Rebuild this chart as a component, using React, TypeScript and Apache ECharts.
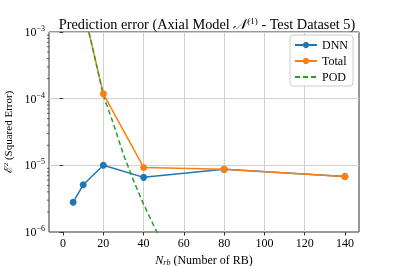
import React, { useEffect, useRef } from "react";
import * as echarts from "echarts";

const nrbDNN = [5, 10, 20, 40, 80, 140];
const dnnError = [2.8e-6, 5.1e-6, 1.0e-5, 6.6e-6, 8.7e-6, 6.8e-6];
const nrbTotal = [5, 10, 20, 40, 80, 140];
const totalError = [8.0e-3, 2.3e-3, 1.18e-4, 9.3e-6, 8.7e-6, 6.8e-6];
const nrbPOD = [0, 5, 10, 15, 20, 25, 30, 35, 40, 45, 50, 60];
const podError = [3.2e-2, 8.0e-3, 2.3e-3, 5.2e-4, 1.12e-4, 4.2e-5, 1.45e-5, 5.9e-6, 2.6e-6, 1.26e-6, 6.3e-7, 1.6e-7];
const xTicks = [0, 20, 40, 60, 80, 100, 120, 140];
const yMinorTicks = [2, 3, 4, 5, 6, 7, 8, 9].flatMap((k) => [k * 1e-6, k * 1e-5, k * 1e-4]);

const FONT = "Liberation Serif";
const BLUE = "#1f77b4";
const ORANGE = "#ff7f0e";
const GREEN = "#2ca02c";

export default function App() {
  const ref = useRef<HTMLDivElement>(null);
  useEffect(() => {
    if (!ref.current) return;
    const chart = echarts.init(ref.current, null, { renderer: "svg" });
    chart.setOption({
      animation: false,
      textStyle: { fontFamily: FONT },
      title: {
        text: "Prediction error (Axial Model {i|𝒩}{sup|(1)} - Test Dataset 5)",
        left: 202,
        textAlign: "center",
        top: 11,
        textStyle: {
          fontFamily: FONT,
          fontSize: 14.3,
          fontWeight: "normal",
          color: "#000",
          rich: {
            i: { fontFamily: FONT, fontSize: 14.3, fontStyle: "italic", color: "#000" },
            sup: { fontSize: 9, fontFamily: FONT, color: "#000", padding: [0, 0, 7, 0] },
          },
        },
      },
      legend: {
        orient: "vertical",
        right: 46,
        top: 35,
        itemWidth: 22,
        itemHeight: 8,
        itemGap: 4,
        padding: [4, 5, 3, 4],
        borderColor: "#cccccc",
        borderWidth: 1,
        borderRadius: 3,
        backgroundColor: "rgba(255,255,255,0.8)",
        textStyle: { fontFamily: FONT, fontSize: 12, color: "#000" },
        data: ["DNN", "Total", { name: "POD", itemStyle: { opacity: 0 } }],
      },
      grid: {
        left: 49,
        right: 40,
        top: 32,
        bottom: 34,
        outerBoundsMode: "none",
        containLabel: false,
        show: true,
        borderColor: "#333",
        borderWidth: 1,
        backgroundColor: "transparent",
      },
      xAxis: {
        type: "value",
        min: -7,
        max: 147,
        name: "{i|N}{sub|rb} (Number of RB)",
        nameLocation: "middle",
        nameGap: 21,
        nameTextStyle: {
          fontFamily: FONT,
          fontSize: 12,
          color: "#000",
          rich: {
            i: { fontFamily: FONT, fontSize: 12, fontStyle: "italic", color: "#000" },
            sub: { fontFamily: FONT, fontSize: 8, fontStyle: "italic", color: "#000", padding: [5, 0, 0, 0] },
          },
        },
        axisLine: { show: false },
        axisTick: { show: true, inside: false, length: 3.5, customValues: xTicks, lineStyle: { color: "#333" } },
        axisLabel: { customValues: xTicks, fontFamily: FONT, fontSize: 12, color: "#000", margin: 5 },
        splitLine: { show: true, showMinLine: false, showMaxLine: false, lineStyle: { color: "#d0d0d0", width: 1 } },
      },
      yAxis: {
        type: "log",
        logBase: 10,
        min: 1e-6,
        max: 1e-3,
        name: "ℰ{sup|2} (Squared Error)",
        nameLocation: "middle",
        nameRotate: 90,
        nameGap: 26,
        nameTextStyle: {
          fontFamily: FONT,
          fontSize: 11,
          color: "#000",
          rich: { sup: { fontSize: 7, fontFamily: FONT, color: "#000", padding: [0, 0, 5, 0] } },
        },
        axisLine: { show: false },
        axisTick: { show: true, length: 3.5, lineStyle: { color: "#333" } },
        axisLabel: {
          fontFamily: FONT,
          fontSize: 12,
          color: "#000",
          margin: 4,
          formatter: (v: number) => `10{sup|−${Math.round(-Math.log10(v))}}`,
          rich: { sup: { fontSize: 8, fontFamily: FONT, color: "#000", padding: [0, 0, 7, 0] } },
        },
        splitLine: { show: true, showMinLine: false, showMaxLine: false, lineStyle: { color: "#d0d0d0", width: 1 } },
      },
      series: [
        {
          name: "DNN",
          type: "line",
          data: nrbDNN.map((x, i) => [x, dnnError[i]]),
          color: BLUE,
          symbol: "circle",
          symbolSize: 7,
          lineStyle: { width: 1.5 },
        },
        {
          name: "Total",
          type: "line",
          data: nrbTotal.map((x, i) => [x, totalError[i]]),
          color: ORANGE,
          symbol: "circle",
          symbolSize: 7,
          lineStyle: { width: 1.5 },
        },
        {
          name: "POD",
          type: "line",
          data: nrbPOD.map((x, i) => [x, podError[i]]),
          color: GREEN,
          symbol: "none",
          lineStyle: { width: 1.5, type: [5, 3] },
        },
        {
          name: "minorTicks",
          type: "custom",
          silent: true,
          data: yMinorTicks.map((v) => [-7, v]),
          renderItem: (params: any, api: any) => {
            const p = api.coord([api.value(0), api.value(1)]);
            return {
              type: "line",
              shape: { x1: p[0] - 2, y1: p[1], x2: p[0], y2: p[1] },
              style: { stroke: "#333", lineWidth: 0.8 },
            };
          },
        },
      ],
    });
    return () => chart.dispose();
  }, []);
  return <div ref={ref} style={{ position: "fixed", left: 0, top: 0, width: 399, height: 266 }} />;
}
